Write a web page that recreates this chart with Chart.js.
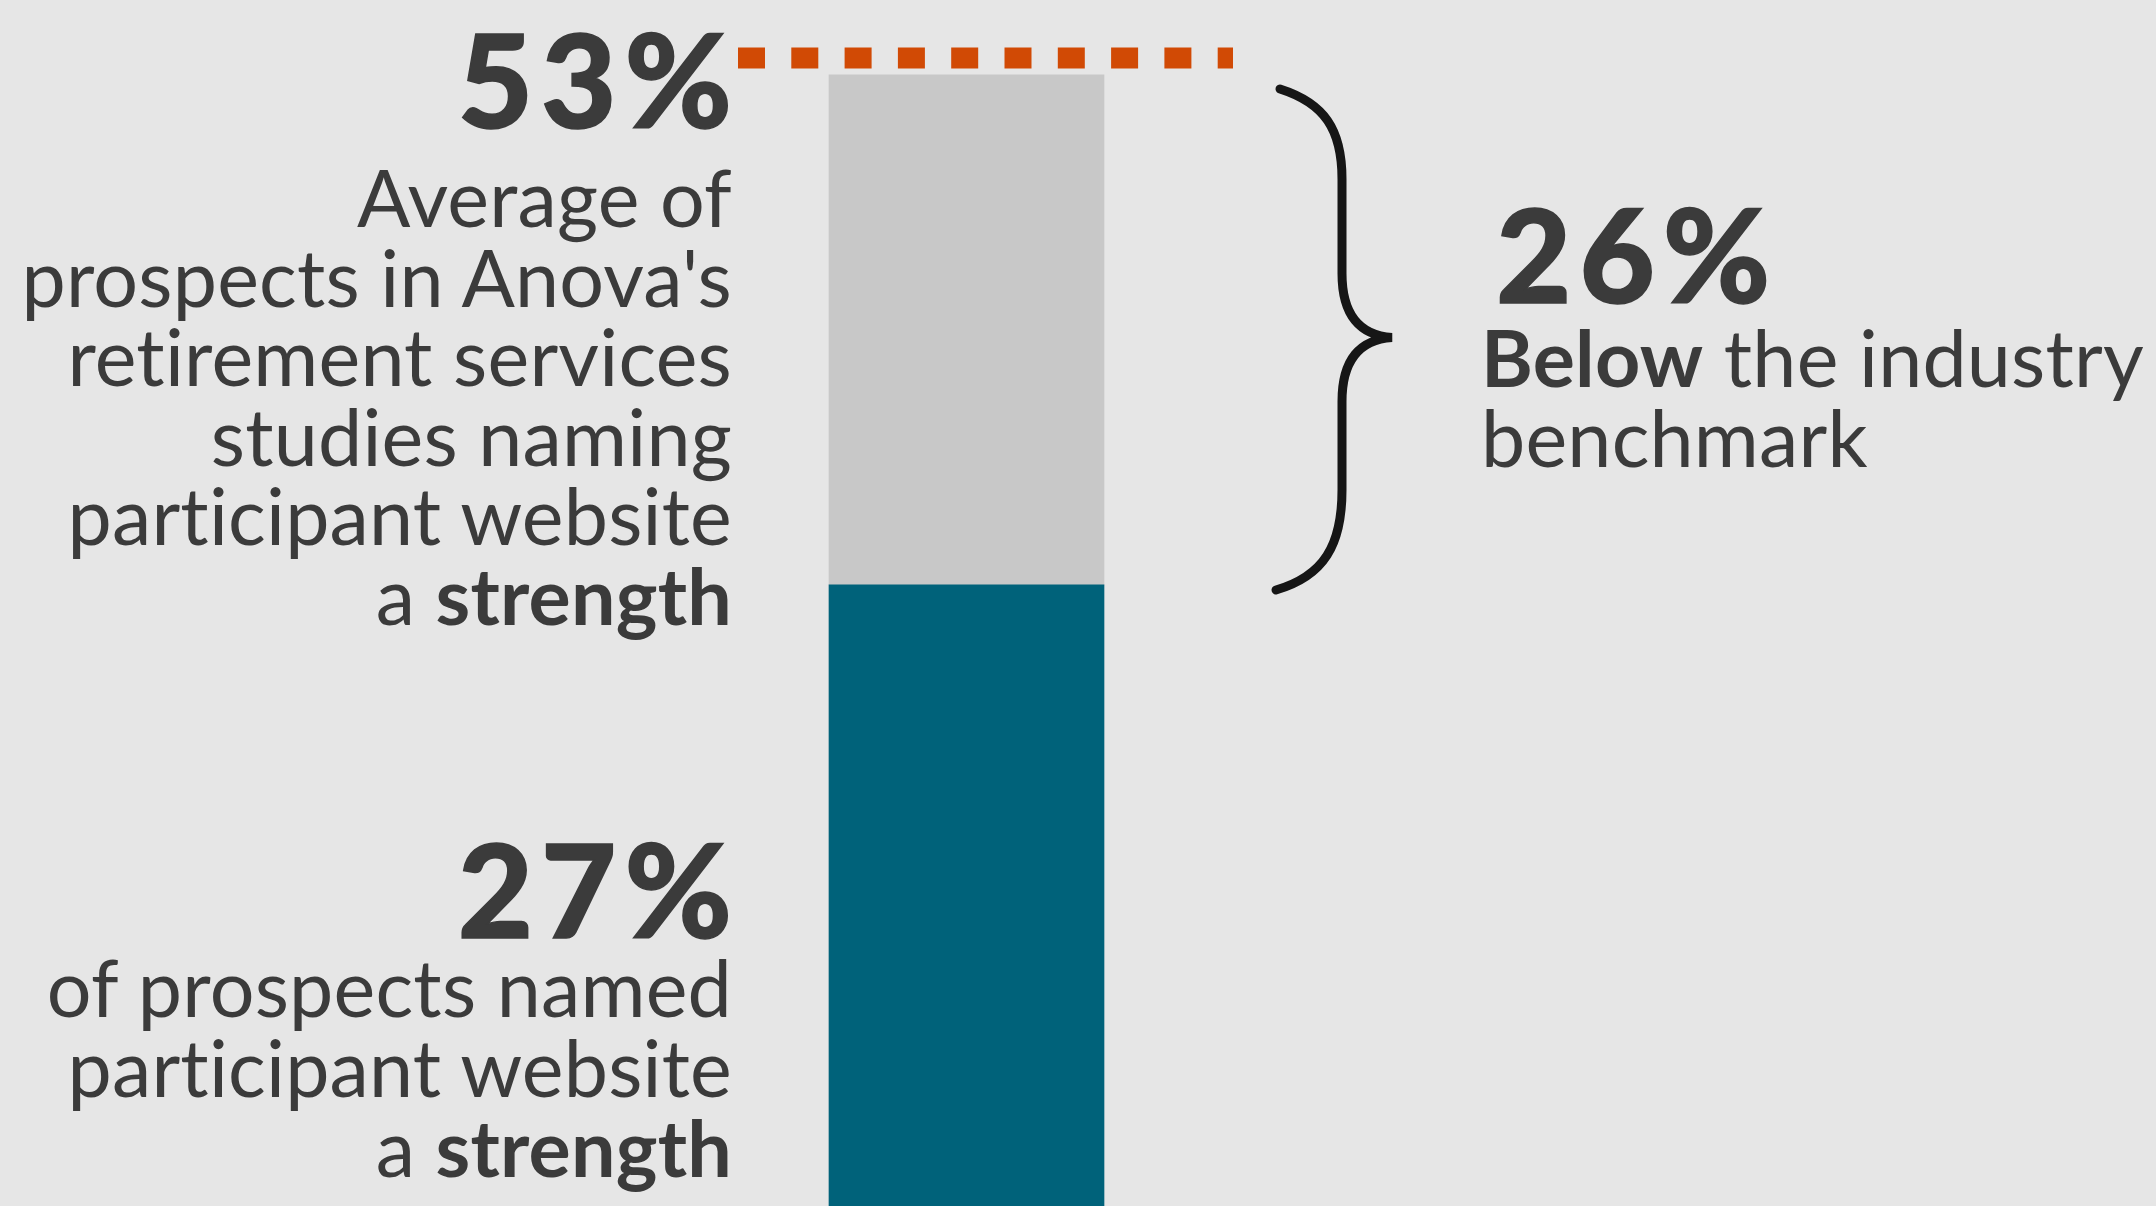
<!DOCTYPE html>
<html>
<head>
<meta charset="utf-8">
<script src="https://cdn.jsdelivr.net/npm/chart.js@4.4.1/dist/chart.umd.min.js"></script>
<style>
  html, body { margin: 0; padding: 0; background: #e6e6e6; overflow: hidden; }
  #wrap { position: relative; width: 2156px; height: 1206px; font-family: Lato, "Open Sans", sans-serif; color: #3b3b3b; }
  #wrap canvas { position: absolute; left: 0; top: 0; }
  .big { position: absolute; font-size: 130px; font-weight: 900; line-height: 130px; white-space: nowrap;
         letter-spacing: 8px; -webkit-text-stroke: 1.5px #3b3b3b; }
  .big.right { right: 1416px; }
  .txt { position: absolute; font-size: 79px; line-height: 79.5px; letter-spacing: 0.2px; white-space: nowrap; }
  .right { right: 1424px; text-align: right; }
  b { font-weight: 700; }
</style>
</head>
<body>
<div id="wrap">
  <canvas id="gapChart" width="2156" height="1206"></canvas>

  <div class="big right" id="benchmark-num" style="top:13px"></div>
  <div class="txt right" style="top:157px">Average of<br>prospects in Anova's<br>retirement services<br>studies naming<br>participant website<br>a <b>strength</b></div>

  <div class="big right" id="website-num" style="top:823px"></div>
  <div class="txt right" style="top:947px; line-height:80px">of prospects named<br>participant website<br>a <b>strength</b></div>

  <div class="big" id="gap-num" style="top:188px; left:1496px"></div>
  <div class="txt" style="top:317px; left:1481px; line-height:80px"><b>Below</b> the industry<br>benchmark</div>
</div>

<script>
// Data
const categories = ['Participant website'];
const websiteShare = [27];      // % of prospects naming the website a strength
const gapToBenchmark = [26];    // points below the benchmark
const benchmark = [53];         // industry average

// Labels from the data
document.getElementById('benchmark-num').textContent = benchmark[0] + '%';
document.getElementById('website-num').textContent = websiteShare[0] + '%';
document.getElementById('gap-num').textContent = gapToBenchmark[0] + '%';

// The bar runs off the bottom edge, so the value axis starts below zero
const Y_MIN = -4.66;
const Y_MAX = 56.82;

// Dotted benchmark line and the curly brace
const annotations = {
    id: 'annotations',
    afterDatasetsDraw(chart) {
        const ctx = chart.ctx;
        const y = chart.scales.y;
        const bar = chart.getDatasetMeta(0).data[0];
        const left = bar.x - bar.width / 2;
        const right = bar.x + bar.width / 2;
        const top = y.getPixelForValue(benchmark[0]);
        const split = y.getPixelForValue(websiteShare[0]);

        ctx.save();
        ctx.strokeStyle = '#d14a05';
        ctx.lineWidth = 21;
        ctx.lineCap = 'butt';
        ctx.setLineDash([27, 26.3]);
        ctx.beginPath();
        ctx.moveTo(left - 91, top - 17);
        ctx.lineTo(right + 129, top - 17);
        ctx.stroke();
        ctx.restore();

        // brace
        const x0 = right + 172;
        const spine = right + 238;
        const tip = right + 288;
        const yTop = top + 14;
        const yBot = split + 5;
        const yMid = (yTop + yBot) / 2 - 2;

        ctx.save();
        ctx.strokeStyle = '#161616';
        ctx.lineWidth = 9;
        ctx.lineCap = 'round';
        ctx.lineJoin = 'miter';
        ctx.beginPath();
        ctx.moveTo(x0 + 4, yTop);
        ctx.bezierCurveTo(x0 + 48, yTop + 14, spine, yTop + 40, spine, yTop + 90);
        ctx.lineTo(spine, yMid - 64);
        ctx.bezierCurveTo(spine, yMid - 22, spine + 18, yMid - 2, tip, yMid);
        ctx.bezierCurveTo(spine + 18, yMid + 2, spine, yMid + 22, spine, yMid + 64);
        ctx.lineTo(spine, yBot - 100);
        ctx.bezierCurveTo(spine, yBot - 45, x0 + 48, yBot - 14, x0, yBot);
        ctx.stroke();
        ctx.restore();
    }
};

const ctx = document.getElementById('gapChart').getContext('2d');

const gapChart = new Chart(ctx, {
    type: 'bar',
    data: {
        labels: categories,
        datasets: [
            {
                label: 'Prospects naming participant website a strength',
                data: websiteShare,
                backgroundColor: '#00627a',
                base: Y_MIN,
                barThickness: 275,
                borderWidth: 0
            },
            {
                label: 'Below the industry benchmark',
                data: gapToBenchmark,
                backgroundColor: '#c8c8c8',
                barThickness: 275,
                borderWidth: 0
            }
        ]
    },
    options: {
        responsive: false,
        animation: false,
        devicePixelRatio: 1,
        layout: { padding: { left: 0, right: 223, top: 0, bottom: 0 } },
        scales: {
            x: { stacked: true, display: false },
            y: { stacked: true, display: false, min: Y_MIN, max: Y_MAX }
        },
        plugins: {
            legend: { display: false },
            tooltip: { enabled: false }
        }
    },
    plugins: [annotations]
});
</script>
</body>
</html>
